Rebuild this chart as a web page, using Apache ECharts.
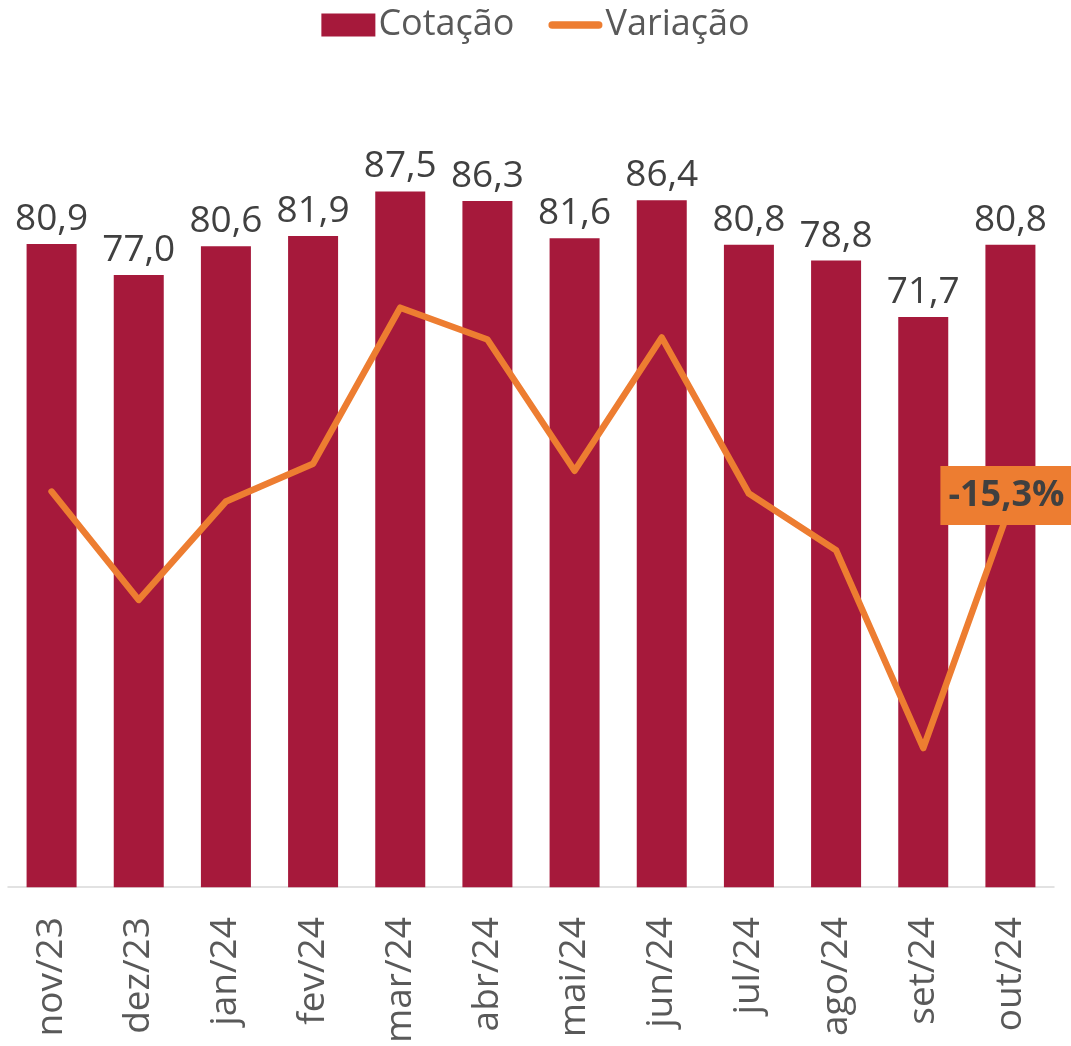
<!DOCTYPE html>
<html>
<head>
<meta charset="utf-8">
<script src="https://cdn.jsdelivr.net/npm/echarts@6/dist/echarts.min.js"></script>
<style>html,body{margin:0;padding:0;background:#fff}#c{width:1071px;height:1046px}</style>
</head>
<body>
<div id="c"></div>
<script>
const categories = ['nov/23','dez/23','jan/24','fev/24','mar/24','abr/24','mai/24','jun/24','jul/24','ago/24','set/24','out/24'];
const cotacao = [80.9, 77.0, 80.6, 81.9, 87.5, 86.3, 81.6, 86.4, 80.8, 78.8, 71.7, 80.8];
const variacao = [-13.9, -24.8, -14.9, -11.1, 4.6, 1.4, -11.8, 1.6, -14.1, -19.8, -39.7, -15.3];

const fmt = v => v.toFixed(1).replace('.', ',');
const FONT = '"Open Sans", "Liberation Sans", sans-serif';

const lineData = variacao.map((v, i) => i === variacao.length - 1 ? {
  value: v,
  label: {
    show: true,
    position: 'inside',
    offset: [-4, -10],
    formatter: p => fmt(p.value) + '%',
    fontFamily: FONT,
    fontSize: 36,
    fontWeight: 'bold',
    color: '#404040',
    backgroundColor: '#ED7D31',
    padding: [10, 8, 9, 8],
    lineHeight: 40
  }
} : v);

const chart = echarts.init(document.getElementById('c'), null, {renderer: 'canvas'});
chart.setOption({
  animation: false,
  textStyle: {fontFamily: FONT},
  legend: {
    top: 2,
    left: 'center',
    itemWidth: 54,
    itemHeight: 23,
    itemGap: 34,
    textStyle: {fontSize: 36, color: '#595959', fontFamily: FONT, padding: [0, 0, 0, -2]},
    data: [
      {name: 'Cotação', icon: 'rect'},
      {name: 'Variação', icon: 'path://M4,0 H54 A4,4 0 0 1 54,8 H4 A4,4 0 0 1 4,0 Z', itemStyle: {color: '#ED7D31', borderWidth: 0}, lineStyle: {width: 0}}
    ]
  },
  grid: {left: 8, right: 17, top: 92, bottom: 152, containLabel: false},
  xAxis: {
    type: 'category',
    data: categories,
    axisLine: {lineStyle: {color: '#D9D9D9', width: 1.5}},
    axisTick: {show: false},
    axisLabel: {rotate: 90, fontSize: 37, color: '#595959', margin: 30, fontFamily: FONT, interval: 0}
  },
  yAxis: [
    {type: 'value', min: 0, max: 100, show: false, splitLine: {show: false}},
    {type: 'value', min: -53.7, max: 26.3, show: false, splitLine: {show: false}}
  ],
  series: [
    {
      name: 'Cotação',
      type: 'bar',
      data: cotacao,
      barWidth: 50,
      itemStyle: {color: '#A6193B'},
      label: {
        show: true,
        position: 'top',
        distance: 6,
        formatter: p => fmt(p.value),
        fontSize: 37,
        color: '#404040',
        fontFamily: FONT
      },
      z: 1
    },
    {
      name: 'Variação',
      type: 'line',
      yAxisIndex: 1,
      data: lineData,
      symbol: 'circle',
      symbolSize: 1,
      showSymbol: true,
      itemStyle: {color: '#ED7D31'},
      lineStyle: {color: '#ED7D31', width: 6.5, cap: 'round', join: 'round'},
      label: {show: false},
      z: 3
    }
  ]
});
</script>
</body>
</html>
